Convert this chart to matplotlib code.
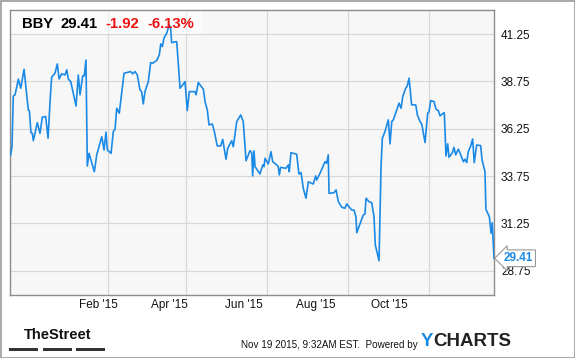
"""
BBY - cours sur un an (style YCharts / TheStreet).
"""

import matplotlib.pyplot as plt
import matplotlib.dates as mdates
from matplotlib.patches import Rectangle
import pandas as pd

# ── Données ──────────────────────────────────────────────────────────────────
start = pd.Timestamp("2014-11-19")

# jours écoulés depuis le 19 nov. 2014
days = [
    0.5, 1.5, 2.5, 3.8, 6.3, 8.1, 10.6, 13.8, 14.6, 15.8, 16.8, 17.6, 20.6, 22.6,
    24.4, 26.9, 28.7, 30.2, 31.4, 33.9, 35.7, 37.0, 39.0, 41.5, 42.8, 44.0, 45.8,
    48.3, 49.8, 51.5, 52.8, 54.8, 56.0, 57.3, 58.3, 59.6, 63.6, 65.4, 69.2, 70.9,
    72.4, 73.4, 76.2, 77.9, 79.2, 80.5, 82.4, 84.2, 86.0, 89.2, 91.0, 92.5, 94.3,
    96.0, 98.0, 99.3, 100.5, 101.8, 104.3, 106.1, 107.6, 110.6, 112.6, 113.7,
    114.9, 116.1, 118.2, 120.1, 121.2, 121.9, 125.7, 126.9, 128.2, 130.2, 132.0,
    133.7, 135.2, 139.5, 140.3, 142.0, 145.8, 147.1, 148.8, 150.1, 152.6, 154.1,
    156.3, 158.9, 160.4, 162.9, 164.2, 167.2, 168.4, 171.0, 174.0, 175.9, 178.0,
    181.0, 182.3, 183.0, 184.0, 184.8, 188.5, 190.6, 191.6, 192.3, 194.8, 196.8,
    198.1, 200.6, 202.3, 203.1, 204.1, 208.1, 209.9, 210.6, 211.9, 216.2, 217.9,
    219.5, 221.2, 223.2, 225.0, 228.7, 230.5, 231.3, 233.8, 237.6, 238.8, 240.0,
    240.6, 244.3, 245.9, 247.6, 250.2, 252.6, 253.9, 255.1, 257.7, 259.4, 260.9,
    261.5, 266.4, 267.7, 268.5, 270.7, 272.8, 274.5, 275.5, 278.3, 279.8, 280.8,
    282.8, 285.3, 286.6, 287.9, 289.1, 291.6, 293.4, 294.9, 296.2, 298.4, 299.6,
    300.9, 301.7, 302.9, 306.0, 307.2, 309.2, 310.5, 313.0, 315.0, 316.0, 317.3,
    319.8, 321.3, 323.0, 324.3, 326.0, 327.5, 328.8, 330.1, 331.1, 333.6, 334.8,
    336.1, 338.1, 339.9, 341.9, 343.1, 344.4, 345.6, 347.4, 348.9, 350.1, 351.9,
    354.9, 356.0, 358.2, 358.9, 361.5, 362.8, 363.7, 365.0,
]

prices = [
    34.87, 35.30, 37.98, 38.04, 38.87, 38.39, 39.39, 37.24, 37.21, 36.04, 36.01,
    35.62, 36.57, 36.01, 36.86, 36.89, 35.75, 37.68, 38.97, 39.18, 39.67, 38.88,
    39.15, 39.09, 39.36, 38.87, 38.74, 37.95, 37.45, 39.09, 38.04, 39.04, 39.04,
    39.88, 34.28, 34.95, 33.98, 34.87, 35.83, 35.13, 36.07, 35.13, 34.95, 36.10,
    36.22, 37.33, 37.07, 38.13, 39.18, 39.24, 39.27, 39.15, 39.27, 39.09, 38.30,
    38.21, 37.56, 38.21, 38.74, 39.74, 39.71, 39.85, 40.15, 40.73, 40.59, 41.03,
    41.30, 41.74, 41.51, 40.80, 40.85, 39.71, 38.39, 38.56, 38.74, 37.21, 38.21,
    38.21, 38.04, 38.69, 38.34, 37.68, 37.24, 36.45, 36.50, 36.10, 35.34, 35.34,
    35.69, 34.64, 35.22, 35.62, 35.30, 36.63, 36.98, 36.63, 34.56, 35.09, 34.99,
    33.76, 35.09, 34.25, 33.86, 34.34, 34.25, 34.69, 34.39, 35.04, 34.51, 34.37,
    34.25, 33.81, 34.21, 34.16, 34.34, 33.98, 34.99, 34.90, 33.86, 33.93, 33.10,
    32.58, 33.45, 33.33, 33.76, 33.54, 33.90, 34.51, 34.43, 34.87, 32.84, 32.87,
    33.02, 32.40, 32.10, 32.05, 32.28, 32.17, 31.96, 31.96, 31.60, 30.76, 31.69,
    31.75, 32.58, 32.40, 32.34, 31.60, 30.11, 29.28, 34.25, 35.75, 36.10, 36.72,
    35.45, 36.63, 36.72, 37.24, 37.60, 37.33, 37.95, 38.39, 38.51, 38.92, 38.39,
    37.51, 37.51, 36.98, 36.63, 36.50, 35.52, 37.07, 37.15, 37.74, 37.68, 37.28,
    37.21, 36.93, 37.03, 37.10, 34.81, 35.45, 34.74, 34.99, 35.27, 34.87, 35.17,
    34.87, 34.51, 34.64, 34.46, 35.04, 35.34, 35.71, 34.46, 35.39, 35.36, 34.60,
    33.98, 32.00, 31.60, 30.73, 31.29, 29.41,
]

y_ticks = [28.75, 31.25, 33.75, 36.25, 38.75, 41.25]
grid_dates = ["2015-02-01", "2015-04-01", "2015-06-01", "2015-08-01", "2015-10-01"]
label_dates = ["2015-01-25", "2015-03-19", "2015-05-14", "2015-07-08", "2015-09-01"]
x_labels = ["Feb '15", "Apr '15", "Jun '15", "Aug '15", "Oct '15"]

ticker = "BBY"
last = "29.41"
change = "-1.92"
change_pct = "-6.13%"

LINE = "#1b8ae6"
plt.rcParams["font.family"] = ["Liberation Sans", "DejaVu Sans"]

# ── Figure ───────────────────────────────────────────────────────────────────
fig = plt.figure(figsize=(5.75, 3.58), dpi=100)
ax = fig.add_axes([10 / 575, 63 / 358, 484 / 575, 285 / 358])
ax.set_facecolor("#f7f7f7")

dates = start + pd.to_timedelta(days, unit="D")
ax.plot(dates, prices, color=LINE, linewidth=1.2, zorder=3)

ax.set_xlim(start, start + pd.Timedelta(days=365))
ax.set_ylim(27.47, 42.52)

# grille
ax.set_yticks(y_ticks)
ax.set_yticklabels([f"{v:.2f}" for v in y_ticks])
ax.yaxis.tick_right()
ax.tick_params(axis="y", length=0, pad=5, labelsize=8.5, colors="#111")

ax.set_xticks(mdates.date2num(pd.to_datetime(grid_dates)))
ax.set_xticklabels([])
ax.set_xticks(mdates.date2num(pd.to_datetime(label_dates)), minor=True)
ax.set_xticklabels(x_labels, minor=True)
ax.tick_params(axis="x", which="both", length=0, pad=3, labelsize=8.5, colors="#111")
ax.grid(True, which="major", color="#d8d8d8", linewidth=0.9, zorder=1)

for sp in ax.spines.values():
    sp.set_color("#8c8c8c")
    sp.set_linewidth(1.0)

# bandeau du titre
ax.add_patch(Rectangle((0, 0.916), 0.397, 0.084, transform=ax.transAxes,
                       facecolor="white", alpha=0.55, edgecolor="none", zorder=2))
ty = 0.951
ax.text(0.024, ty, ticker, transform=ax.transAxes, fontsize=10.7, fontweight="bold",
        va="center", zorder=5)
ax.text(0.105, ty, last, transform=ax.transAxes, fontsize=10.7, fontweight="bold",
        va="center", zorder=5)
ax.text(0.198, ty, change, transform=ax.transAxes, fontsize=10.7, fontweight="bold",
        color="#ee1111", va="center", zorder=5)
ax.text(0.283, ty, change_pct, transform=ax.transAxes, fontsize=10.7, fontweight="bold",
        color="#ee1111", va="center", zorder=5)

# étiquette dernière valeur
ax.annotate(last, xy=(dates[-1], prices[-1]), xytext=(7, 0),
            textcoords="offset points", ha="left", va="center",
            fontsize=8.5, fontweight="bold", color=LINE, annotation_clip=False,
            bbox=dict(boxstyle="larrow,pad=0.2", facecolor="white",
                      edgecolor="#999999", linewidth=0.8), zorder=6)

# pied de page
fig.text(57.5 / 575, 1 - 335 / 358, "TheStreet", fontsize=10.5, fontweight="bold",
         family=["Liberation Sans Narrow", "Liberation Sans"], ha="center",
         va="center", color="#111")
for x0, x1 in [(9.3, 38.3), (42.7, 71.7), (76, 105.3)]:
    fig.patches.append(Rectangle((x0 / 575, 1 - 351 / 358), (x1 - x0) / 575, 3.5 / 358,
                                 transform=fig.transFigure, facecolor="#333333",
                                 edgecolor="none"))
fig.text(418 / 575, 1 - 345 / 358, "Nov 19 2015, 9:32AM EST.  Powered by",
         fontsize=7.1, ha="right", va="center", color="#111")
fig.text(421 / 575, 1 - 342 / 358, "Y", fontsize=13.5, fontweight="bold",
         color="#1b8ae6", ha="left", va="center")
fig.text(433 / 575, 1 - 342 / 358, "CHARTS", fontsize=13.5, fontweight="bold",
         color="#222222", ha="left", va="center")

# cadre extérieur
fig.patches.append(Rectangle((0.5 / 575, 0.5 / 358), 574 / 575, 357 / 358,
                             transform=fig.transFigure, fill=False,
                             edgecolor="#999999", linewidth=1.2))

fig.savefig("out.png", dpi=100)
